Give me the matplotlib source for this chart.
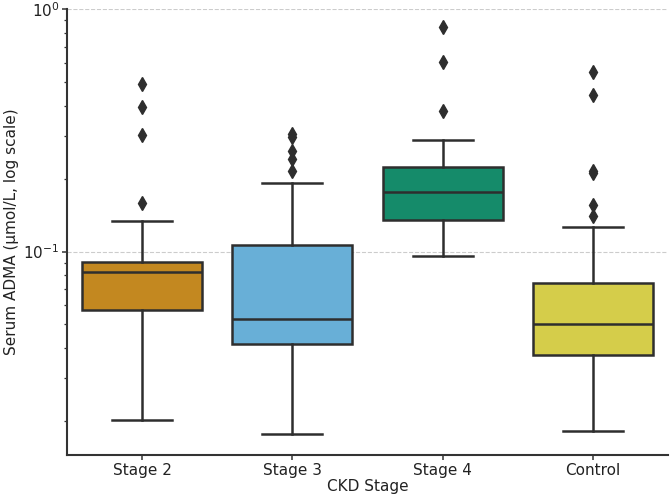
import matplotlib
matplotlib.use("Agg")
import matplotlib.pyplot as plt
import colorsys
import matplotlib.colors as mcolors

categories = ["Stage 2", "Stage 3", "Stage 4", "Control"]
q1 = [0.0572, 0.0414, 0.135, 0.0373]
medians = [0.0821, 0.0528, 0.176, 0.0504]
q3 = [0.0903, 0.1062, 0.224, 0.0738]
whis_lo = [0.0201, 0.0176, 0.0957, 0.0181]
whis_hi = [0.1334, 0.192, 0.288, 0.1264]
fliers = [
    [0.49, 0.394, 0.304, 0.159],
    [0.307, 0.298, 0.260, 0.240, 0.214],
    [0.847, 0.606, 0.38],
    [0.552, 0.441, 0.215, 0.211, 0.155, 0.140],
]
base_colors = ["#DE8F05", "#56B4E9", "#029E73", "#ECE133"]


def desaturate(c, prop=0.75):
    r, g, b = mcolors.to_rgb(c)
    h, l, s = colorsys.rgb_to_hls(r, g, b)
    return colorsys.hls_to_rgb(h, l, s * prop)


colors = [desaturate(c) for c in base_colors]
line_c = "#2e2e2e"

fig = plt.figure(figsize=(6.72, 5.0), dpi=100)
ax = fig.add_axes([67 / 672, 45 / 500, (668 - 67) / 672, (455 - 9.3) / 500])

stats = []
for i, name in enumerate(categories):
    stats.append(dict(label=name, q1=q1[i], med=medians[i], q3=q3[i],
                      whislo=whis_lo[i], whishi=whis_hi[i], fliers=fliers[i]))

bp = ax.bxp(stats, positions=range(len(categories)), widths=0.8,
            patch_artist=True, showfliers=True,
            boxprops=dict(linewidth=1.8, edgecolor=line_c),
            medianprops=dict(color=line_c, linewidth=1.8),
            whiskerprops=dict(color=line_c, linewidth=1.8),
            capprops=dict(color=line_c, linewidth=1.8),
            flierprops=dict(marker="d", markerfacecolor=line_c,
                            markeredgecolor=line_c, markersize=7.5))
for patch, col in zip(bp["boxes"], colors):
    patch.set_facecolor(col)

ax.set_yscale("log")
ax.set_ylim(0.01445, 1.0)
ax.set_xlim(-0.5, 3.5)
ax.set_xticks(range(len(categories)))
ax.set_xticklabels(categories)

ax.yaxis.grid(True, which="major", linestyle="--", color="#cccccc", linewidth=0.8)
ax.set_axisbelow(True)

for s in ["top", "right"]:
    ax.spines[s].set_visible(False)
for s in ["left", "bottom"]:
    ax.spines[s].set_color("#333333")
    ax.spines[s].set_linewidth(1.5)

ax.tick_params(axis="both", which="major", labelsize=11, color="#333333",
               length=3.5, width=1.1, pad=2, labelcolor="#222222")
ax.tick_params(axis="y", which="minor", color="#333333", length=2.5, width=0.9)

ax.set_xlabel("CKD Stage", fontsize=11, color="#222222", labelpad=1)
ax.set_ylabel("Serum ADMA (µmol/L, log scale)", fontsize=11, color="#222222",
              labelpad=3)

fig.savefig("out.png", dpi=100)
